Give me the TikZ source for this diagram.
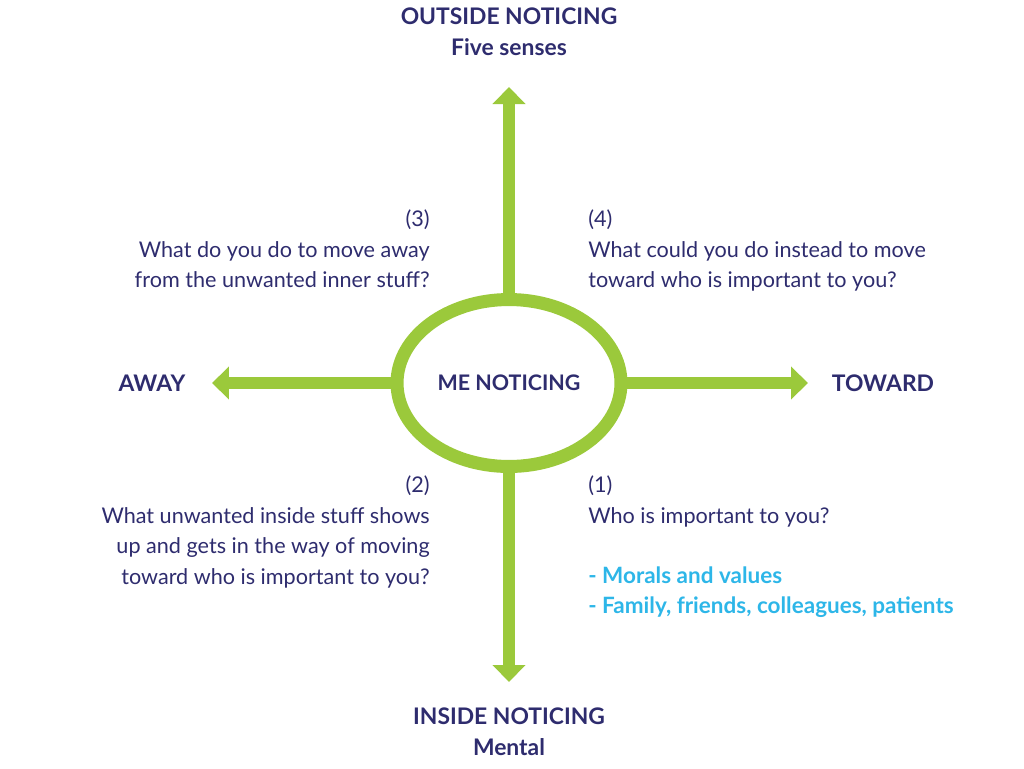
\documentclass[tikz,border=0pt]{standalone}
\usepackage{fontspec}
\setmainfont{Lato}
\usetikzlibrary{arrows.meta,positioning,shapes.geometric}
\definecolor{navy}{RGB}{46,44,110}
\definecolor{leafgreen}{RGB}{155,201,59}
\definecolor{skyblue}{RGB}{45,182,232}

\begin{document}
\begin{tikzpicture}[
  x=0.02cm, y=-0.02cm,
  every node/.style={font=\fontsize{12.3}{17.6}\selectfont, text=navy, inner sep=0pt},
  heading/.style={font=\fontsize{13}{17.6}\selectfont\bfseries, align=center},
  question/.style={align=left, anchor=north west},
  question_left/.style={align=right, anchor=north east},
  hub/.style={ellipse, draw=leafgreen, line width=0.26cm, minimum width=4.48cm, minimum height=3.34cm, font=\fontsize{12.2}{14}\selectfont\bfseries},
  axis/.style={-{Triangle[width=0.64cm,length=0.34cm]}, line width=0.23cm, leafgreen}
]
\useasboundingbox (0,0) rectangle (1024,768);

% Centre
\node[hub] (me) at (509,383) {ME NOTICING};

% Arrow ends
\coordinate (upend) at (509,87);
\coordinate (downend) at (509,682);
\coordinate (leftend) at (212,383);
\coordinate (rightend) at (808,383);

\draw[axis] (me) -- (upend);
\draw[axis] (me) -- (downend);
\draw[axis] (me) -- (leftend);
\draw[axis] (me) -- (rightend);

% Axis labels
\node[heading] (outside) at (509,32) {OUTSIDE NOTICING\\Five senses};
\node[heading] (inside) at (509,732) {INSIDE NOTICING\\Mental};
\node[heading] (away) at (152,383) {AWAY};
\node[heading] (toward) at (883,383) {TOWARD};

% Quadrant 3
\node[question_left] (q3) at (430,209) {(3)\\What do you do to move away\\from the unwanted inner stuff?};

% Quadrant 4
\node[question] (q4) at (588,209) {(4)\\What could you do instead to move\\toward who is important to you?};

% Quadrant 2
\node[question_left] (q2) at (430,475) {(2)\\What unwanted inside stuff shows\\up and gets in the way of moving\\toward who is important to you?};

% Quadrant 1
\node[question] (q1) at (588,475) {(1)\\Who is important to you?};
\node[question, text=skyblue, font=\fontsize{12.8}{17.6}\selectfont\bfseries] (values) at (588,566) {- Morals and values\\- Family, friends, colleagues, patients};

\end{tikzpicture}
\end{document}
